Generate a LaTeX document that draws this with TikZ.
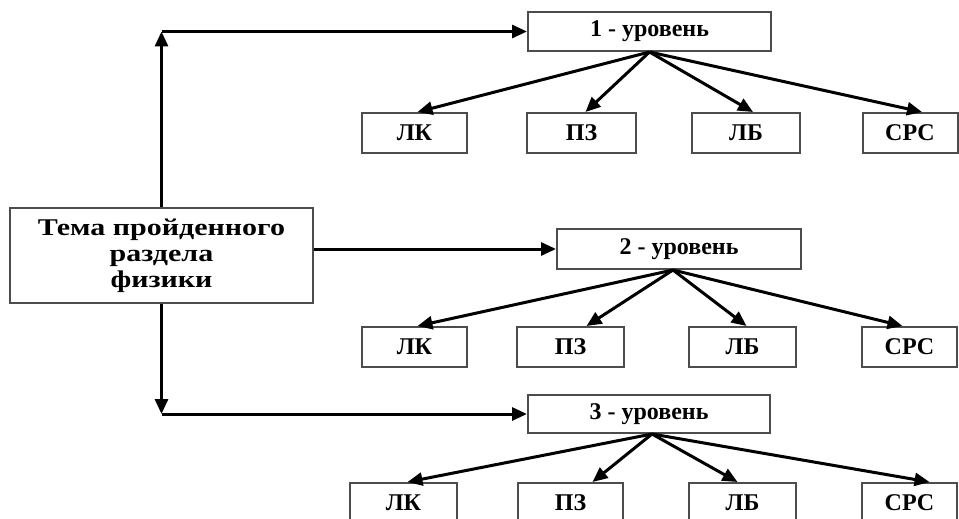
\documentclass[tikz,border=0pt]{standalone}
\usepackage{fontspec}
\setmainfont{Liberation Serif}
\newfontfamily\temafont{Liberation Serif}[FakeStretch=1.25]
\usetikzlibrary{arrows.meta}

\tikzset{
  box/.style={draw=black!70,line width=2pt,inner sep=0pt,align=center,
    minimum height=40pt,font=\fontsize{24}{26}\selectfont\bfseries},
  conn/.style={line width=3pt,-{Triangle[length=15pt,width=13pt]}}
}

\begin{document}
\begin{tikzpicture}[x=1pt,y=-1pt]

\useasboundingbox (0,0) rectangle (959,519);

%%%%%%%%%%%%%%%%%%%%%%%%%%%%%%%%%%%%%%%%%%%%%%%%%%
% Topic
%%%%%%%%%%%%%%%%%%%%%%%%%%%%%%%%%%%%%%%%%%%%%%%%%%

\node[box,minimum width=303pt,minimum height=95pt,
  font=\fontsize{24}{26}\selectfont\temafont\bfseries]
  (tema) at (161.5,255.5) {Тема пройденного\\раздела\\физики};

%%%%%%%%%%%%%%%%%%%%%%%%%%%%%%%%%%%%%%%%%%%%%%%%%%
% Levels
%%%%%%%%%%%%%%%%%%%%%%%%%%%%%%%%%%%%%%%%%%%%%%%%%%

\node[box,minimum width=243pt,minimum height=39pt] (u1) at (649.5,31.5) {1 - уровень};
\node[box,minimum width=244pt] (u2) at (679,249) {2 - уровень};
\node[box,minimum width=242pt,minimum height=38pt] (u3) at (649,414) {3 - уровень};

% First row
\node[box,minimum width=105pt] (lk1) at (414.5,133) {ЛК};
\node[box,minimum width=109pt] (pz1) at (581.5,133) {ПЗ};
\node[box,minimum width=108pt] (lb1) at (746,133) {ЛБ};
\node[box,minimum width=95pt] (srs1) at (910,133) {СРС};

% Second row
\node[box,minimum width=105pt] (lk2) at (414.5,347) {ЛК};
\node[box,minimum width=107pt] (pz2) at (570.5,347) {ПЗ};
\node[box,minimum width=107pt] (lb2) at (742.5,347) {ЛБ};
\node[box,minimum width=95pt] (srs2) at (909.5,347) {СРС};

% Third row
\node[box,minimum width=107pt] (lk3) at (403.5,503) {ЛК};
\node[box,minimum width=105pt] (pz3) at (570.5,503) {ПЗ};
\node[box,minimum width=107pt] (lb3) at (742.5,503) {ЛБ};
\node[box,minimum width=95pt] (srs3) at (909.5,503) {СРС};

%%%%%%%%%%%%%%%%%%%%%%%%%%%%%%%%%%%%%%%%%%%%%%%%%%
% Connectors
%%%%%%%%%%%%%%%%%%%%%%%%%%%%%%%%%%%%%%%%%%%%%%%%%%

% Corners
\coordinate (up) at (tema.north |- u1.west);
\coordinate (down) at (tema.south |- u3.west);

\draw[conn] (tema.north) -- (up);
\draw[conn] (up) -- (u1.west);
\draw[conn] (tema.east |- u2.west) -- (u2.west);
\draw[conn] (tema.south) -- (down);
\draw[conn] (down) -- (u3.west);

% Branches
\foreach \n/\dx in {lk/3,pz/4,lb/7,srs/12}
  \draw[conn] (u1.south) -- ([xshift=\dx pt]\n1.north);
\foreach \n/\dx in {lk/3,pz/16,lb/4,srs/-7}
  \draw[conn] ([xshift=-6pt]u2.south) -- ([xshift=\dx pt]\n2.north);
\foreach \n/\dx in {lk/4,pz/22,lb/-5,srs/20}
  \draw[conn] ([xshift=3pt]u3.south) -- ([xshift=\dx pt]\n3.north);

\end{tikzpicture}
\end{document}
